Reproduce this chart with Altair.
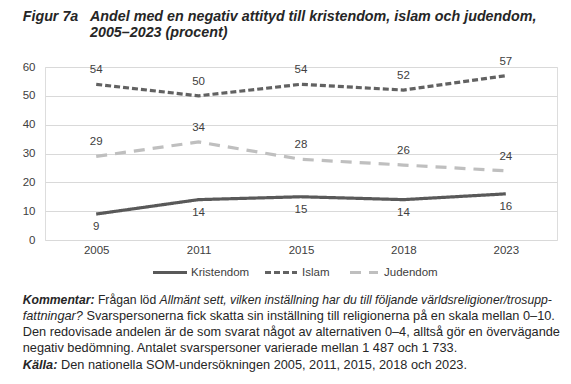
import altair as alt
import pandas as pd

FONT = "Liberation Sans"

years = ["2005", "2011", "2015", "2018", "2023"]
series = ["Kristendom", "Islam", "Judendom"]
kristendom = [9, 14, 15, 14, 16]
islam = [54, 50, 54, 52, 57]
judendom = [29, 34, 28, 26, 24]
y_ticks = [0, 10, 20, 30, 40, 50, 60]

colors = ["#595959", "#626262", "#bfbfbf"]
dashes = [[1, 0], [6, 3], [11, 8]]

rows = []
for name, vals in zip(series, [kristendom, islam, judendom]):
    for yr, v in zip(years, vals):
        rows.append({"series": name, "year": yr, "value": v})
df = pd.DataFrame(rows)

W, H = 512, 173
L = 45   # plot left in page px
T = 67   # plot top in page px

color_scale = alt.Scale(domain=series, range=colors)
dash_scale = alt.Scale(domain=series, range=dashes)

x_enc = alt.X("year:O", sort=years,
              scale=alt.Scale(type="point", padding=0.5),
              axis=alt.Axis(title=None, labelAngle=0, domain=False, ticks=False, grid=False,
                            labelFont=FONT, labelFontSize=11.5, labelColor="#404040",
                            labelPadding=4))
y_enc = alt.Y("value:Q",
              scale=alt.Scale(domain=[0, 60], nice=False),
              axis=alt.Axis(title=None, values=y_ticks, domain=False, ticks=False,
                            grid=True, gridColor="#d9d9d9", gridWidth=1,
                            labelFont=FONT, labelFontSize=11.5, labelColor="#404040",
                            labelPadding=10))

base = alt.Chart(df)

lines = base.mark_line(strokeWidth=3.2).encode(
    x=x_enc, y=y_enc,
    color=alt.Color("series:N", sort=series, scale=color_scale, legend=None),
    strokeDash=alt.StrokeDash("series:N", sort=series, scale=dash_scale, legend=None),
)

def labels(name, dy):
    return base.transform_filter(alt.datum.series == name).mark_text(
        dy=dy, font=FONT, fontSize=11.5, color="#404040"
    ).encode(x=x_enc, y=y_enc, text="value:Q")

lab_k = labels("Kristendom", 13)
lab_i = labels("Islam", -14)
lab_j = labels("Judendom", -14)

# legend (drawn through the same colour / dash scales)
leg_df = pd.DataFrame({"series": series})
leg_y = 272.5 - T
leg_pos = {"Kristendom": (153, 187, 191), "Islam": (265, 297, 302), "Judendom": (350, 378, 384)}
legend_layers = []
for name in series:
    s0, s1, tx = leg_pos[name]
    lb = alt.Chart(leg_df).transform_filter(alt.datum.series == name)
    legend_layers.append(lb.mark_rule(strokeWidth=3.2).encode(
        x=alt.value(s0 - L), x2=alt.value(s1 - L), y=alt.value(leg_y),
        color=alt.Color("series:N", scale=color_scale, legend=None),
        strokeDash=alt.StrokeDash("series:N", scale=dash_scale, legend=None),
    ))
    legend_layers.append(lb.mark_text(
        align="left", baseline="middle", font=FONT, fontSize=11.5, color="#404040"
    ).encode(x=alt.value(tx - L), y=alt.value(leg_y), text="series:N"))

def txt(s, x, y, size, weight="normal", style="normal", color="#262626"):
    return alt.Chart(pd.DataFrame({"t": [s]})).mark_text(
        align="left", baseline="middle", font=FONT, fontSize=size,
        fontWeight=weight, fontStyle=style, color=color,
    ).encode(x=alt.value(x), y=alt.value(y), text="t:N")

ts = 14.3
ns = 12.75
n1 = 12.2
ax = 90
r1, r2, r3, r4, r5 = 300, 316, 332, 348, 365
texts = [
    txt("Figur 7a", 22.7 - L, 17 - T, ts, "bold", "italic"),
    txt("Andel med en negativ attityd till kristendom, islam och judendom,", ax - L, 17 - T, ts, "bold", "italic"),
    txt("2005–2023 (procent)", ax - L, 32.5 - T, ts, "bold", "italic"),
    txt("Kommentar:", 22.7 - L, r1 - T, n1, "bold", "italic"),
    txt("Frågan löd", 97.9 - L, r1 - T, n1),
    txt("Allmänt sett, vilken inställning har du till följande världsreligioner/trosupp-", 159.6 - L, r1 - T, n1, "normal", "italic"),
    txt("fattningar?", 22.7 - L, r2 - T, ns, "normal", "italic"),
    txt("Svarspersonerna fick skatta sin inställning till religionerna på en skala mellan 0–10.", 86.4 - L, r2 - T, ns),
    txt("Den redovisade andelen är de som svarat något av alternativen 0–4, alltså gör en övervägande", 22.7 - L, r3 - T, ns),
    txt("negativ bedömning. Antalet svarspersoner varierade mellan 1 487 och 1 733.", 22.7 - L, r4 - T, ns),
    txt("Källa:", 22.7 - L, r5 - T, ns, "bold", "italic"),
    txt("Den nationella SOM-undersökningen 2005, 2011, 2015, 2018 och 2023.", 61 - L, r5 - T, ns),
]

chart = alt.layer(lines, lab_k, lab_i, lab_j, *legend_layers, *texts).properties(
    width=W, height=H,
    autosize=alt.AutoSizeParams(type="none"),
    padding={"left": 37, "top": 59, "right": 6, "bottom": 136},
).configure_view(stroke=None).configure(background="white")

chart.save("out.html", embed_options={"renderer": "svg", "actions": False})
